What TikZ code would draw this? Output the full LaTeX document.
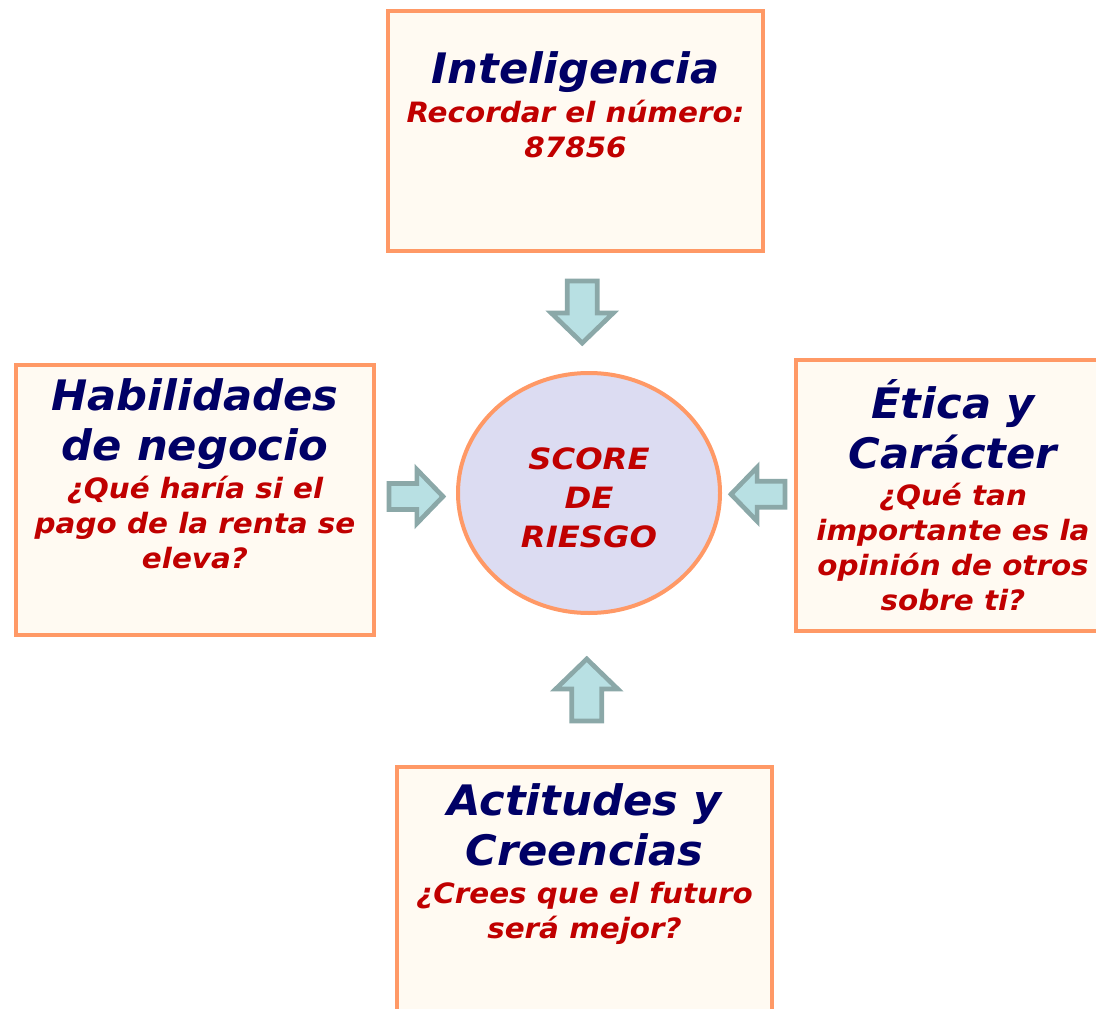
\documentclass[tikz,border=0pt]{standalone}
\usepackage{fontspec}
\setmainfont{DejaVu Sans}
\newfontfamily\titlefam{DejaVu Sans}[FakeStretch=1.03]
\newfontfamily\askfam{DejaVu Sans}[FakeStretch=1.05]
\newfontfamily\scorefam{DejaVu Sans}[FakeStretch=1.1]
\usetikzlibrary{shapes.geometric,calc}
\definecolor{boxline}{RGB}{255,153,102}
\definecolor{boxfill}{RGB}{255,250,242}
\definecolor{scorefill}{RGB}{220,220,242}
\definecolor{titleblue}{RGB}{0,0,102}
\definecolor{askred}{RGB}{192,0,0}
\definecolor{arrowfill}{RGB}{184,224,227}
\definecolor{arrowline}{RGB}{139,168,168}
\newcommand{\pxu}{0.75pt}
\newcommand{\titlefont}{\titlefam\fontsize{31.5}{37.5}\selectfont\bfseries\itshape}
\newcommand{\askfont}{\askfam\fontsize{21}{26.25}\selectfont\bfseries\itshape}
\newcommand{\scorefont}{\scorefam\fontsize{22}{29.25}\selectfont\bfseries\itshape}
\begin{document}
\begin{tikzpicture}[x=0.75pt,y=-0.75pt,
  frame/.style={draw=boxline,line width=3pt,fill=boxfill,inner sep=0pt},
  head/.style={anchor=north,align=center,inner sep=0pt,font=\titlefont,text=titleblue},
  ask/.style={anchor=north,align=center,inner sep=0pt,font=\askfont,text=askred},
  blockarrow/.pic={\draw[draw=arrowline,fill=arrowfill,line width=3.5pt,line join=miter]
    (-31,-15) -- (1,-15) -- (1,-31) -- (31,0) -- (1,31) -- (1,15) -- (-31,15) -- cycle;}]
\useasboundingbox (0,0) rectangle (1096,1009);
\node[frame,minimum width=375*\pxu,minimum height=240*\pxu] (intel) at (575.5,131) {};
\node[head] (intelT) at (575.5,51) {Inteligencia};
\node[ask] (intelQ) at (575.5,99.6) {Recordar el número:\\87856};
\node[frame,minimum width=358*\pxu,minimum height=270*\pxu] (hab) at (195,500) {};
\node[head] (habT) at (195,378) {Habilidades\\de negocio};
\node[ask] (habQ) at (195,475.6) {¿Qué haría si el\\pago de la renta se\\eleva?};
\node[frame,minimum width=314*\pxu,minimum height=271*\pxu] (etica) at (953,495.5) {};
\node[head] (eticaT) at (953,379) {Ética y\\Carácter};
\node[ask] (eticaQ) at (953,482.6) {¿Qué tan\\importante es la\\opinión de otros\\sobre ti?};
\node[frame,minimum width=375*\pxu,minimum height=246*\pxu] (act) at (584.5,890) {};
\node[head] (actT) at (584.5,783) {Actitudes y\\Creencias};
\node[ask] (actQ) at (584.5,881.7) {¿Crees que el futuro\\será mejor?};
\node[ellipse,draw=boxline,line width=3pt,fill=scorefill,inner sep=0pt,
  minimum width=262*\pxu,minimum height=240*\pxu,align=center,font=\scorefont,text=askred]
  (score) at (589,493) {\rule{0pt}{23pt}SCORE\\DE\\RIESGO};
\pic[rotate=-90] at ($(intel.south)!0.5!(score.north)$) {blockarrow};
\pic[scale=0.87] at ($(hab.east)!0.5!(score.west)$) {blockarrow};
\pic[rotate=180,scale=0.87] at ($(etica.west)!0.5!(score.east)$) {blockarrow};
\pic[rotate=90] at ($(score.south)!0.5!(act.north)$) {blockarrow};
\end{tikzpicture}
\end{document}
